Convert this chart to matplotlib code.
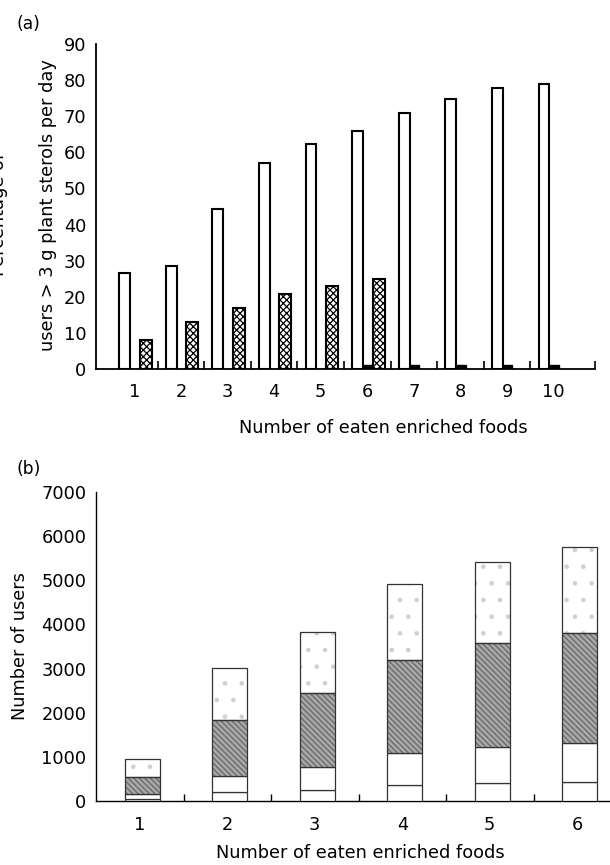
import matplotlib
matplotlib.use('Agg')
import matplotlib.pyplot as plt
import numpy as np

plt.rcParams['font.family'] = ['DejaVu Sans']
plt.rcParams['hatch.linewidth'] = 0.9

# ---------- data ----------
foods_a = [1, 2, 3, 4, 5, 6, 7, 8, 9, 10]
pct_white = [26.6, 28.6, 44.2, 57.1, 62.2, 65.9, 70.9, 74.9, 77.9, 78.8]
pct_black = [0, 0, 0, 0, 0, 1, 1, 1, 1, 1]
pct_hatched = [8.1, 12.9, 17.0, 20.9, 22.9, 24.8, 0, 0, 0, 0]
yticks_a = [0, 10, 20, 30, 40, 50, 60, 70, 80, 90]

foods_b = [1, 2, 3, 4, 5, 6]
seg1 = [45, 197, 257, 355, 401, 431]
seg2 = [106, 362, 522, 741, 816, 877]
seg3 = [386, 1278, 1663, 2102, 2351, 2509]
seg4 = [415, 1187, 1383, 1708, 1844, 1935]
yticks_b = [0, 1000, 2000, 3000, 4000, 5000, 6000, 7000]

FS = 12.8
W, H = 610, 865
fig = plt.figure(figsize=(W / 100, H / 100), dpi=100)

def fx(px):
    return px / W

def fy(py):
    return 1 - py / H

# ---------- panel (a) ----------
axa = fig.add_axes([fx(96), fy(369), fx(594.7 - 96), (369 - 44) / H])
x = np.array(foods_a, dtype=float)
axa.bar(x - 0.21, pct_white, width=0.23, facecolor='white', edgecolor='black', linewidth=1.5, zorder=3)
axa.bar(x + 0.01, pct_black, width=0.2, facecolor='black', edgecolor='black', linewidth=1.0, zorder=3)
hb = [(xi, v) for xi, v in zip(x, pct_hatched) if v > 0]
axa.bar([h[0] + 0.24 for h in hb], [h[1] for h in hb], width=0.26, facecolor='white',
        edgecolor='black', linewidth=1.5, hatch='xxxxx', zorder=3)
axa.set_xlim(0.176, 10.878)
axa.set_ylim(0, 90)
axa.set_yticks(yticks_a)
axa.set_xticks(foods_a)
axa.set_xticks(list(np.arange(1.5, 10, 1.0)) + [10.878], minor=True)
axa.tick_params(axis='x', which='major', length=0, pad=10, labelsize=FS)
axa.tick_params(axis='x', which='minor', direction='in', length=6, width=1.2)
axa.tick_params(axis='y', length=0, pad=7, labelsize=FS)
for s in ['top', 'right']:
    axa.spines[s].set_visible(False)
for s in ['left', 'bottom']:
    axa.spines[s].set_linewidth(1.3)
fig.text(fx(383), fy(428), 'Number of eaten enriched foods', ha='center', va='center', fontsize=FS)
fig.text(fx(-1), fy(214), 'Percentage of', rotation=90, ha='center', va='center', fontsize=FS)
fig.text(fx(48.5), fy(205), 'users > 3 g plant sterols per day', rotation=90, ha='center', va='center', fontsize=FS)
fig.text(fx(28), fy(24), '(a)', ha='center', va='center', fontsize=FS - 0.5)

# ---------- panel (b) ----------
axb = fig.add_axes([fx(96), fy(801), 6 * 87.5 / W, (801 - 492) / H])
xb = np.array(foods_b, dtype=float) + 0.03
bw = 0.4
s1 = np.array(seg1, float)
s2 = np.array(seg2, float)
s3 = np.array(seg3, float)
s4 = np.array(seg4, float)
b2 = s1
b3 = s1 + s2
b4 = s1 + s2 + s3
ec = '#333333'
axb.bar(xb, s1, width=bw, bottom=0, facecolor='white', edgecolor=ec, linewidth=0.9, zorder=3)
axb.bar(xb, s2, width=bw, bottom=b2, facecolor='white', edgecolor=ec, linewidth=0.9, zorder=3)
axb.bar(xb, s3, width=bw, bottom=b3, facecolor='#a8a8a8', edgecolor='#666666', linewidth=0,
        hatch='\\\\\\\\\\\\', zorder=3)
axb.bar(xb, s3, width=bw, bottom=b3, facecolor='none', edgecolor=ec, linewidth=0.9, zorder=4)
axb.bar(xb, s4, width=bw, bottom=b4, facecolor='white', edgecolor='#d0d0d0', linewidth=0,
        hatch='.', zorder=3)
axb.bar(xb, s4, width=bw, bottom=b4, facecolor='none', edgecolor=ec, linewidth=0.9, zorder=4)
axb.set_xlim(0.5, 6.5)
axb.set_ylim(0, 7000)
axb.set_yticks(yticks_b)
axb.set_xticks(foods_b)
axb.set_xticks(np.arange(1.5, 6, 1.0), minor=True)
axb.tick_params(axis='x', which='major', length=0, pad=11, labelsize=FS)
axb.tick_params(axis='x', which='minor', direction='in', length=5, width=1.0)
axb.tick_params(axis='y', length=0, pad=7, labelsize=FS)
for s in ['top', 'right']:
    axb.spines[s].set_visible(False)
for s in ['left', 'bottom']:
    axb.spines[s].set_linewidth(1.0)
fig.text(fx(360), fy(853), 'Number of eaten enriched foods', ha='center', va='center', fontsize=FS)
fig.text(fx(20), fy(646), 'Number of users', rotation=90, ha='center', va='center', fontsize=FS)
fig.text(fx(29), fy(469), '(b)', ha='center', va='center', fontsize=FS - 0.5)

fig.savefig('out.png', dpi=100)
